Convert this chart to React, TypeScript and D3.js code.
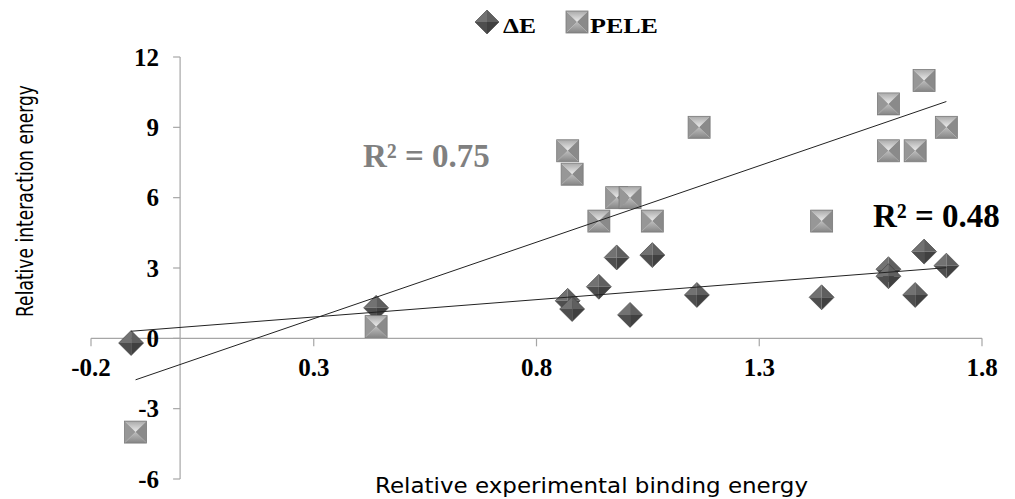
import React from "react";
import * as d3 from "d3";

const xValuesDE = [-0.11, 0.44, 0.87, 0.88, 0.94, 0.98, 1.01, 1.06, 1.16, 1.44, 1.59, 1.59, 1.65, 1.67, 1.72];
const yValuesDE = [-0.2, 1.3, 1.6, 1.25, 2.2, 3.45, 1.0, 3.55, 1.85, 1.75, 2.95, 2.65, 1.85, 3.7, 3.1];
const xValuesPELE = [-0.1, 0.44, 0.87, 0.88, 0.94, 0.98, 1.01, 1.06, 1.165, 1.44, 1.59, 1.59, 1.65, 1.67, 1.72];
const yValuesPELE = [-4, 0.5, 8, 7, 5, 6, 6, 5, 9, 5, 10, 8, 8, 11, 9];
const xTicks = [-0.2, 0.3, 0.8, 1.3, 1.8];
const yTicks = [-6, -3, 0, 3, 6, 9, 12];
const seriesNames = ["\u0394E", "PELE"];
const r2Labels = ["R\u00b2 = 0.48", "R\u00b2 = 0.75"];
const xTitle = "Relative experimental binding energy";
const yTitle = "Relative interaction energy";

const W = 1015;
const H = 499;
const x = d3.scaleLinear().domain([-0.2, 1.8]).range([91, 982]);
const y = d3.scaleLinear().domain([-6, 12]).range([479, 57]);

function regression(xs: number[], ys: number[]) {
  const mx = d3.mean(xs) as number;
  const my = d3.mean(ys) as number;
  const sxy = d3.sum(xs, (v, i) => (v - mx) * (ys[i] - my));
  const sxx = d3.sum(xs, (v) => (v - mx) * (v - mx));
  const slope = sxy / sxx;
  const intercept = my - slope * mx;
  const [x0, x1] = d3.extent(xs) as [number, number];
  return [
    [x0, intercept + slope * x0],
    [x1, intercept + slope * x1],
  ] as [number, number][];
}

const fmt = (v: number) => (v === 0 ? "0" : d3.format(".1f")(v).replace("\u2212", "-"));
const fmtY = (v: number) => String(v);

function Square({ cx, cy, s }: { cx: number; cy: number; s: number }) {
  const h = s / 2;
  const L = cx - h, R = cx + h, T = cy - h, B = cy + h;
  return (
    <g>
      <polygon points={`${L},${T} ${R},${T} ${cx},${cy}`} fill="url(#sqTop)" />
      <polygon points={`${L},${B} ${R},${B} ${cx},${cy}`} fill="url(#sqBot)" />
      <polygon points={`${L},${T} ${L},${B} ${cx},${cy}`} fill="#979797" />
      <polygon points={`${R},${T} ${R},${B} ${cx},${cy}`} fill="#8a8a8a" />
      <rect x={L} y={T} width={s} height={s} fill="none" stroke="#7a7a7a" strokeWidth={0.8} />
    </g>
  );
}

function Diamond({ cx, cy, s }: { cx: number; cy: number; s: number }) {
  const h = s / 2;
  return (
    <g>
      <polygon points={`${cx - h},${cy} ${cx},${cy - h} ${cx},${cy}`} fill="#727272" />
      <polygon points={`${cx},${cy - h} ${cx + h},${cy} ${cx},${cy}`} fill="#5f5f5f" />
      <polygon points={`${cx - h},${cy} ${cx},${cy + h} ${cx},${cy}`} fill="#4e4e4e" />
      <polygon points={`${cx},${cy + h} ${cx + h},${cy} ${cx},${cy}`} fill="#404040" />
      <polygon points={`${cx - h},${cy} ${cx},${cy - h} ${cx + h},${cy} ${cx},${cy + h}`} fill="none" stroke="#3a3a3a" strokeWidth={0.6} />
    </g>
  );
}

export default function App() {
  const lineDE = regression(xValuesDE, yValuesDE);
  const linePELE = regression(xValuesPELE, yValuesPELE);
  const line = d3.line<[number, number]>().x((d) => x(d[0])).y((d) => y(d[1]));
  const x0 = x(0);
  const y0 = y(0);
  const axisColor = "#a6a6a6";
  const serif = "'Liberation Serif', 'Times New Roman', serif";
  const sans = "'DejaVu Sans', Verdana, sans-serif";
  return (
    <svg width={W} height={H} style={{ position: "absolute", left: 0, top: 0, background: "#fff" }}>
      <defs>
        <linearGradient id="sqTop" x1="0" y1="0" x2="0" y2="1">
          <stop offset="0%" stopColor="#a9a9a9" />
          <stop offset="100%" stopColor="#ececec" />
        </linearGradient>
        <linearGradient id="sqBot" x1="0" y1="1" x2="0" y2="0">
          <stop offset="0%" stopColor="#858585" />
          <stop offset="100%" stopColor="#bdbdbd" />
        </linearGradient>
      </defs>
      <rect width={W} height={H} fill="#fff" />
      {/* axes */}
      <line x1={x(-0.2)} x2={x(1.8)} y1={y0} y2={y0} stroke={axisColor} strokeWidth={1.2} />
      <line x1={x0} x2={x0} y1={y(12)} y2={y(-6)} stroke={axisColor} strokeWidth={1.2} />
      {xTicks.map((t) => (
        <g key={"xt" + t}>
          <line x1={x(t)} x2={x(t)} y1={y0} y2={y0 + 8} stroke={axisColor} strokeWidth={1.2} />
          <text x={x(t)} y={y0 + 38} textAnchor="middle" fontFamily={serif} fontWeight="bold" fontSize={25} fill="#000">
            {fmt(t)}
          </text>
        </g>
      ))}
      {yTicks.map((t) => (
        <g key={"yt" + t}>
          <line x1={x0 - 7} x2={x0} y1={y(t)} y2={y(t)} stroke={axisColor} strokeWidth={1.2} />
          <text x={x0 - 21} y={y(t) + 8.5} textAnchor="end" fontFamily={serif} fontWeight="bold" fontSize={25} fill="#000">
            {fmtY(t)}
          </text>
        </g>
      ))}
      {/* series */}
      {xValuesDE.map((v, i) => (
        <Diamond key={"d" + i} cx={x(v)} cy={y(yValuesDE[i])} s={25} />
      ))}
      {xValuesPELE.map((v, i) => (
        <Square key={"s" + i} cx={x(v)} cy={y(yValuesPELE[i])} s={22} />
      ))}
      {/* trendlines */}
      <path d={line(lineDE) as string} stroke="#222" strokeWidth={1} fill="none" />
      <path d={line(linePELE) as string} stroke="#222" strokeWidth={1} fill="none" />
      {/* R2 labels */}
      <text x={363} y={167} fontFamily={serif} fontWeight="bold" fontSize={33} fill="#808080">
        {r2Labels[1]}
      </text>
      <text x={873} y={227} fontFamily={serif} fontWeight="bold" fontSize={33} fill="#000">
        {r2Labels[0]}
      </text>
      {/* legend */}
      <Diamond cx={487} cy={22} s={24} />
      <text x={503} y={33} fontFamily={serif} fontWeight="bold" fontSize={20} textLength={33} lengthAdjust="spacingAndGlyphs" fill="#000">
        {seriesNames[0]}
      </text>
      <Square cx={577} cy={22} s={22} />
      <text x={590} y={33} fontFamily={serif} fontWeight="bold" fontSize={20} textLength={68} lengthAdjust="spacingAndGlyphs" fill="#000">
        {seriesNames[1]}
      </text>
      {/* axis titles */}
      <text x={375} y={493} fontFamily={sans} fontSize={22} textLength={433} lengthAdjust="spacingAndGlyphs" fill="#000">
        {xTitle}
      </text>
      <text
        transform={`translate(33, ${317}) rotate(-90)`}
        x={0}
        y={0}
        fontFamily={sans}
        fontSize={23}
        textLength={232}
        lengthAdjust="spacingAndGlyphs"
        fill="#000"
      >
        {yTitle}
      </text>
    </svg>
  );
}
